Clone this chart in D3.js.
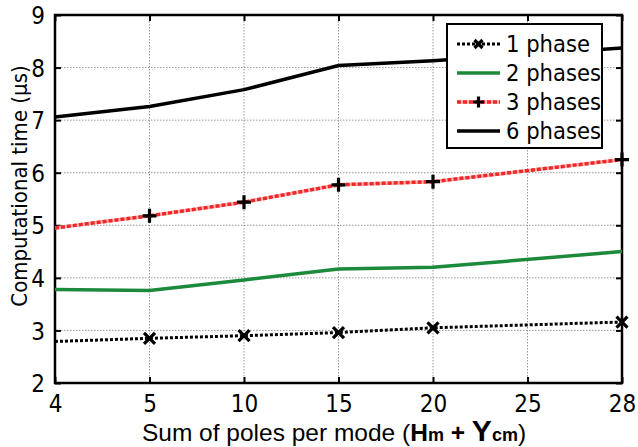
<!DOCTYPE html>
<html><head><meta charset="utf-8">
<script src="https://cdn.jsdelivr.net/npm/d3@7"></script>
<style>
body{margin:0;background:#fff;}
svg{display:block;}
</style></head>
<body><svg id="c" width="638" height="447"></svg>
<script>
const categories = ["4","5","10","15","20","25","28"];
const yTicks = [2,3,4,5,6,7,8,9];
const seriesNames = ["1 phase","2 phases","3 phases","6 phases"];
const xPoints = ["4","5","10","15","20","28"];
const phase1 = [2.79,2.85,2.90,2.96,3.05,3.16];
const phase2 = [3.78,3.76,3.96,4.17,4.20,4.50];
const phase3 = [4.95,5.18,5.44,5.77,5.83,6.25];
const phase6 = [7.06,7.26,7.58,8.04,8.13,8.37];

const svg = d3.select("#c");
const L=55,R=622,T=15,B=383;
const x = d3.scalePoint().domain(categories).range([L,R]);
const y = d3.scaleLinear().domain([2,9]).range([B,T]);

// grid
const g = svg.append("g");
g.selectAll(".gx").data(categories).enter().append("line")
 .attr("x1",d=>x(d)).attr("x2",d=>x(d)).attr("y1",T).attr("y2",B)
 .attr("stroke","#999").attr("stroke-width",1).attr("stroke-dasharray","1.5,1.5");
g.selectAll(".gy").data(yTicks).enter().append("line")
 .attr("x1",L).attr("x2",R).attr("y1",d=>y(d)).attr("y2",d=>y(d))
 .attr("stroke","#999").attr("stroke-width",1).attr("stroke-dasharray","1.5,1.5");

// axes
const fontF = '"DejaVu Sans Condensed","DejaVu Sans",sans-serif';
const axB = svg.append("g").attr("transform",`translate(0,${B})`)
 .call(d3.axisBottom(x).tickSize(-6).tickPadding(12));
const axT = svg.append("g").attr("transform",`translate(0,${T})`)
 .call(d3.axisTop(x).tickSize(-6).tickFormat(""));
const axL = svg.append("g").attr("transform",`translate(${L},0)`)
 .call(d3.axisLeft(y).tickValues(yTicks).tickSize(-6).tickPadding(10).tickFormat(d3.format("d")));
const axR = svg.append("g").attr("transform",`translate(${R},0)`)
 .call(d3.axisRight(y).tickValues(yTicks).tickSize(-6).tickFormat(""));
[axB,axT,axL,axR].forEach(a=>{
  a.select(".domain").remove();
  a.selectAll(".tick line").attr("stroke","#000").attr("stroke-width",2);
  a.selectAll("text").attr("font-family",fontF).attr("font-size",24).attr("fill","#000").attr("font-stretch","condensed");
});
axL.selectAll("text").attr("dy","0.36em");
svg.append("rect").attr("x",L).attr("y",T).attr("width",R-L).attr("height",B-T)
 .attr("fill","none").attr("stroke","#000").attr("stroke-width",2.5);

// lines
const series = [
 {name:seriesNames[0],vals:phase1,color:"#000",dash:"3,2",w:3,marker:"x",under:null},
 {name:seriesNames[1],vals:phase2,color:"#1b8a3a",dash:null,w:3.5,marker:null,under:null},
 {name:seriesNames[2],vals:phase3,color:"#f02828",dash:"4,2",w:3.5,marker:"+",under:"#ffb0b0"},
 {name:seriesNames[3],vals:phase6,color:"#000",dash:null,w:3.5,marker:null,under:null}
];
const line = d3.line().x(d=>x(d[0])).y(d=>y(d[1]));
function marker(sel,type,cx,cy,s){
  if(type==="x"){
    sel.append("path").attr("d",`M${cx-s},${cy-s}L${cx+s},${cy+s}M${cx-s},${cy+s}L${cx+s},${cy-s}`)
     .attr("stroke","#000").attr("stroke-width",3.2).attr("fill","none");
  } else if(type==="+"){
    sel.append("path").attr("d",`M${cx-s-1.5},${cy}L${cx+s+1.5},${cy}M${cx},${cy-s-1.5}L${cx},${cy+s+1.5}`)
     .attr("stroke","#000").attr("stroke-width",3.2).attr("fill","none");
  }
}
series.forEach(s=>{
  const pts = xPoints.map((c,i)=>[c,s.vals[i]]);
  if(s.under) svg.append("path").datum(pts).attr("d",line).attr("fill","none")
   .attr("stroke",s.under).attr("stroke-width",s.w);
  const p = svg.append("path").datum(pts).attr("d",line).attr("fill","none")
   .attr("stroke",s.color).attr("stroke-width",s.w);
  if(s.dash) p.attr("stroke-dasharray",s.dash);
  if(s.marker){
    const mg = svg.append("g");
    pts.slice(1).forEach(d=>marker(mg,s.marker,x(d[0]),y(d[1]),5.5));
  }
});

// legend
const lg = svg.append("g");
lg.append("rect").attr("x",447).attr("y",24).attr("width",155).attr("height",124)
 .attr("fill","#fff").attr("stroke","#000").attr("stroke-width",2);
series.forEach((s,i)=>{
  const cy = 44 + i*29;
  if(s.under) lg.append("line").attr("x1",457).attr("x2",500).attr("y1",cy).attr("y2",cy)
   .attr("stroke",s.under).attr("stroke-width",s.w);
  const l = lg.append("line").attr("x1",457).attr("x2",500).attr("y1",cy).attr("y2",cy)
   .attr("stroke",s.color).attr("stroke-width",s.w);
  if(s.dash) l.attr("stroke-dasharray",s.dash);
  if(s.marker) marker(lg,s.marker,478.5,cy,4);
  lg.append("text").attr("x",506).attr("y",cy).attr("dy","0.36em")
   .attr("font-family",fontF).attr("font-stretch","condensed").attr("font-size",23.5).text(s.name);
});

// axis labels
svg.append("text").attr("transform","translate(27,186) rotate(-90)").attr("text-anchor","middle")
 .attr("font-family",fontF).attr("font-stretch","condensed").attr("font-size",22).text("Computational time (μs)");
const xl = svg.append("text").attr("x",334).attr("y",441).attr("text-anchor","middle")
 .attr("font-family","'Liberation Sans',Arial,sans-serif").attr("font-size",24.5);
xl.append("tspan").text("Sum of poles per mode (");
xl.append("tspan").attr("font-weight","bold").text("H");
xl.append("tspan").attr("font-weight","bold").attr("font-size",18).text("m");
xl.append("tspan").attr("font-weight","bold").text(" + ");
xl.append("tspan").attr("font-weight","bold").attr("font-size",30).text("Y");
xl.append("tspan").attr("font-weight","bold").attr("font-size",18).text("cm");
xl.append("tspan").text(")");
</script></body></html>
